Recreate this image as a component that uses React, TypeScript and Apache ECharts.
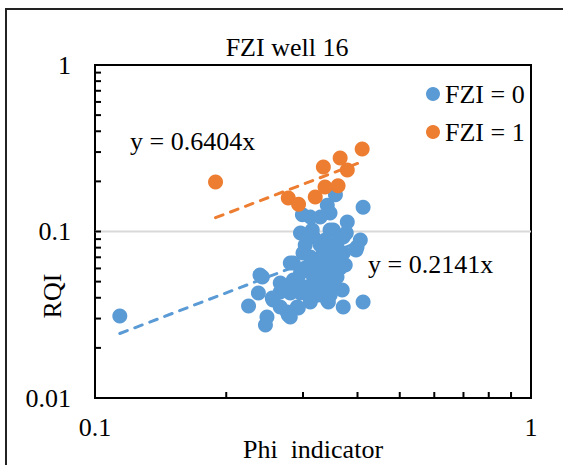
import React, { useEffect, useRef } from "react";
import * as echarts from "echarts";

const FONT = "'Liberation Serif', 'Times New Roman', serif";

const titleText = "FZI well 16";
const xAxisName = "Phi  indicator";
const yAxisName = "RQI";
const seriesNames = ["FZI = 0", "FZI = 1"];
const colors = ["#5B9BD5", "#ED7D31"];

const xTickValues = [0.2, 0.3, 0.4, 0.5, 0.6, 0.7, 0.8, 0.9];
const yTickValues = [
  0.02, 0.03, 0.04, 0.05, 0.06, 0.07, 0.08, 0.09,
  0.1, 0.2, 0.3, 0.4, 0.5, 0.6, 0.7, 0.8, 0.9, 1,
];

// FZI = 0 (blue)
const fzi0: [number, number][] = [
  [0.114, 0.0311], [0.412, 0.14], [0.299, 0.126], [0.3285, 0.122], [0.346, 0.129],
  [0.356, 0.166], [0.379, 0.114], [0.315, 0.102], [0.296, 0.098], [0.346, 0.102],
  [0.406, 0.0889], [0.371, 0.0927], [0.3285, 0.083], [0.399, 0.0807], [0.285, 0.0647],
  [0.242, 0.0533], [0.237, 0.0427], [0.225, 0.0357], [0.248, 0.0307], [0.246, 0.0274],
  [0.256, 0.0388], [0.27, 0.0458], [0.266, 0.0352], [0.2805, 0.0307], [0.276, 0.0329],
  [0.343, 0.0377], [0.371, 0.0352], [0.412, 0.0377], [0.369, 0.0445], [0.365, 0.0604],
  [0.371, 0.0743], [0.3, 0.0743], [0.317, 0.0533], [0.296, 0.0427], [0.312, 0.0388],
  [0.341, 0.0464], [0.3285, 0.0647], [0.352, 0.0647], [0.346, 0.0807], [0.352, 0.102],
  [0.307, 0.0464], [0.285, 0.0511], [0.266, 0.0491], [0.291, 0.0352], [0.317, 0.0445],
  [0.341, 0.0563], [0.359, 0.0533], [0.334, 0.0743], [0.359, 0.0853], [0.317, 0.0927],
  [0.312, 0.0703], [0.296, 0.0563], [0.2805, 0.0427], [0.3285, 0.0511], [0.352, 0.0464],
  [0.239, 0.0548], [0.2805, 0.0647], [0.341, 0.0388], [0.2775, 0.0315], [0.266, 0.0433],
  [0.255, 0.0399], [0.397, 0.0774], [0.312, 0.122], [0.377, 0.0979], [0.341, 0.144],
  [0.3035, 0.083], [0.32, 0.0629], [0.3373, 0.0889], [0.3556, 0.0722], [0.2957, 0.0477],
  [0.3251, 0.0415], [0.3749, 0.0629], [0.3463, 0.0415], [0.3035, 0.0604], [0.3321, 0.0548],
  [0.2926, 0.0347], [0.3117, 0.0377],
];

// FZI = 1 (orange)
const fzi1: [number, number][] = [
  [0.41, 0.313], [0.365, 0.276], [0.334, 0.244], [0.379, 0.234], [0.337, 0.185],
  [0.361, 0.188], [0.32, 0.161], [0.2775, 0.159], [0.293, 0.146], [0.189, 0.198],
];

// Trend lines (through origin), endpoints at the series' x range
const fit0Label = "y = 0.2141x";
const fit1Label = "y = 0.6404x";
const fit0: [number, number][] = [[0.114, 0.0244], [0.412, 0.0882]];
const fit1: [number, number][] = [[0.189, 0.121], [0.41, 0.2626]];

// Horizontal gridline at 0.1
const gridLineY: [number, number][] = [[0.1, 0.1], [1, 0.1]];

const X_MIN = 0.1;
const Y_MIN = 0.01;

export default function App() {
  const ref = useRef<HTMLDivElement>(null);

  useEffect(() => {
    if (!ref.current) return;
    const chart = echarts.init(ref.current, undefined, { renderer: "svg" });
    const textBase = { fontFamily: FONT, color: "#000" };
    chart.setOption({
      animation: false,
      backgroundColor: "#fff",
      textStyle: { fontFamily: FONT },
      grid: {
        left: 95,
        top: 65,
        width: 436,
        height: 333,
        show: true,
        borderColor: "#000",
        borderWidth: 2,
        backgroundColor: "transparent",
        containLabel: false,
        outerBoundsMode: "none",
      },
      legend: {
        data: seriesNames,
        orient: "vertical",
        left: 421,
        top: 76,
        itemGap: 12,
        itemWidth: 14,
        itemHeight: 14,
        icon: "circle",
        selectedMode: false,
        textStyle: { ...textBase, fontSize: 26, lineHeight: 26 },
      },
      xAxis: {
        type: "log",
        logBase: 10,
        min: 0.1,
        max: 1,
        name: xAxisName,
        nameLocation: "middle",
        nameGap: 38,
        nameMoveOverlap: false,
        nameTextStyle: { ...textBase, fontSize: 26 },
        axisLine: { show: true, lineStyle: { color: "#000", width: 2 } },
        axisTick: { show: false },
        axisLabel: { ...textBase, fontSize: 26, margin: 16 },
        splitLine: { show: false },
        minorTick: { show: false },
      },
      yAxis: {
        type: "log",
        logBase: 10,
        min: 0.01,
        max: 1,
        axisLine: { show: true, lineStyle: { color: "#000", width: 2 } },
        axisTick: { show: false },
        axisLabel: { ...textBase, fontSize: 26, margin: 24 },
        splitLine: { show: false },
      },
      graphic: [
        {
          type: "rect",
          shape: { x: 6, y: 9, width: 620, height: 520 },
          style: { fill: "none", stroke: "#222", lineWidth: 2 },
          silent: true,
          z: 0,
        },
        {
          type: "text",
          x: 287,
          y: 47,
          style: {
            text: titleText,
            font: `26px ${FONT}`,
            fill: "#000",
            textAlign: "center",
            textVerticalAlign: "middle",
          },
        },
        {
          type: "text",
          x: 52,
          y: 296,
          rotation: Math.PI / 2,
          style: {
            text: yAxisName,
            font: `26px ${FONT}`,
            fill: "#000",
            textAlign: "center",
            textVerticalAlign: "middle",
          },
        },
        {
          type: "text",
          x: 130,
          y: 141,
          style: {
            text: fit1Label,
            font: `26px ${FONT}`,
            fill: "#000",
            textAlign: "left",
            textVerticalAlign: "middle",
          },
        },
        {
          type: "text",
          x: 368,
          y: 264,
          style: {
            text: fit0Label,
            font: `26px ${FONT}`,
            fill: "#000",
            textAlign: "left",
            textVerticalAlign: "middle",
          },
        },
      ],
      series: [
        {
          name: "grid01",
          type: "line",
          data: gridLineY,
          showSymbol: false,
          silent: true,
          z: 1,
          lineStyle: { color: "#D9D9D9", width: 2 },
        },
        {
          name: "yTicks",
          type: "custom",
          silent: true,
          clip: false,
          z: 4,
          data: yTickValues.map((v) => [X_MIN, v]),
          renderItem: (params: any, api: any) => {
            const p = api.coord([api.value(0), api.value(1)]);
            return {
              type: "line",
              shape: { x1: p[0], y1: p[1], x2: p[0] + 6, y2: p[1] },
              style: { stroke: "#000", lineWidth: 2 },
            };
          },
        },
        {
          name: "xTicks",
          type: "custom",
          silent: true,
          clip: false,
          z: 4,
          data: xTickValues.map((v) => [v, Y_MIN]),
          renderItem: (params: any, api: any) => {
            const p = api.coord([api.value(0), api.value(1)]);
            return {
              type: "line",
              shape: { x1: p[0], y1: p[1], x2: p[0], y2: p[1] - 6 },
              style: { stroke: "#000", lineWidth: 2 },
            };
          },
        },
        {
          name: seriesNames[0],
          type: "scatter",
          data: fzi0,
          symbol: "circle",
          symbolSize: 15,
          itemStyle: { color: colors[0], opacity: 1 },
          z: 2,
        },
        {
          name: seriesNames[1],
          type: "scatter",
          data: fzi1,
          symbol: "circle",
          symbolSize: 15,
          itemStyle: { color: colors[1], opacity: 1 },
          z: 2,
        },
        {
          name: "fit0",
          type: "line",
          data: fit0,
          showSymbol: false,
          silent: true,
          z: 3,
          lineStyle: { color: colors[0], width: 3, type: [8, 8], cap: "round" },
        },
        {
          name: "fit1",
          type: "line",
          data: fit1,
          showSymbol: false,
          silent: true,
          z: 3,
          lineStyle: { color: colors[1], width: 3, type: [8, 8], cap: "round" },
        },
      ],
    });
    return () => chart.dispose();
  }, []);

  return (
    <div
      ref={ref}
      style={{ position: "fixed", left: 0, top: 0, width: 563, height: 465 }}
    />
  );
}
